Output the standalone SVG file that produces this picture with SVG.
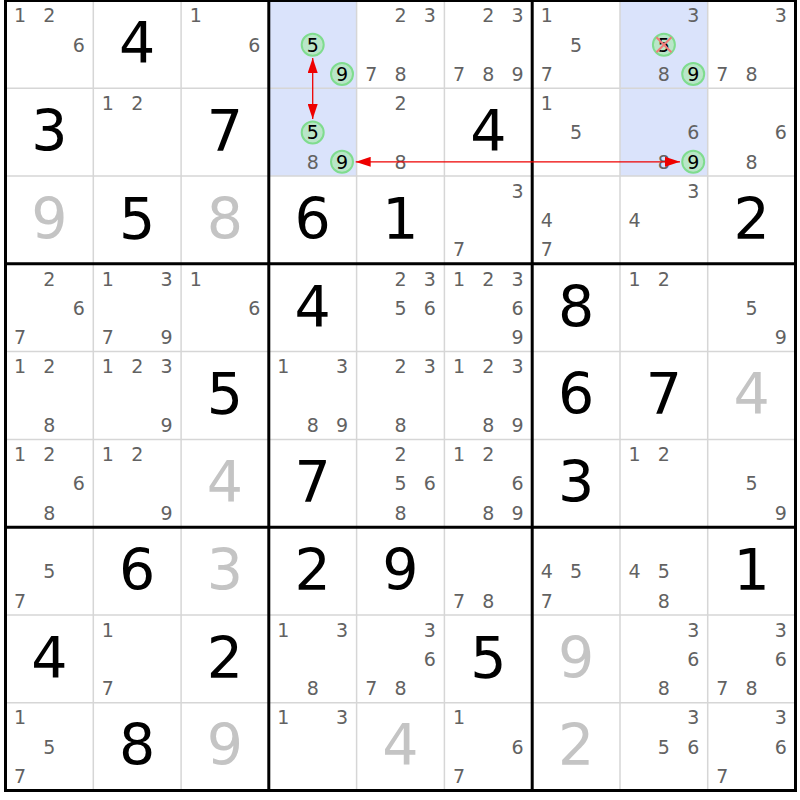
<svg xmlns="http://www.w3.org/2000/svg" width="800" height="800" viewBox="0 0 800 800">
<style>
text{font-family:"DejaVu Sans","Liberation Sans",sans-serif;text-anchor:middle}
.c{font-size:19px;fill:#626262}
.k{font-size:19px;fill:#000}
.g{font-size:57px;fill:#000}
.s{font-size:57px;fill:#c4c4c4}
.hl{fill:#dae3fb}
.ring{fill:#b9e6c8;stroke:#7fdc8e;stroke-width:2}
.x{stroke:#f07a7a;stroke-width:2}
.thin{stroke:#d6d6d6;stroke-width:1.5}
.thick{stroke:#000;stroke-width:3}
.arr{stroke:#ee0000;stroke-width:1.3;fill:none;marker-start:url(#ah);marker-end:url(#ah)}
</style>
<defs>
<marker id="ah" viewBox="0 0 15 10" refX="15" refY="5" markerWidth="15" markerHeight="10" markerUnits="userSpaceOnUse" orient="auto-start-reverse"><path d="M0,0 L15,5 L0,10 z" fill="#ee0000"/></marker>
</defs>
<rect x="0" y="0" width="800" height="800" fill="#fff"/>
<g id="highlights">
<rect class="hl" x="268.8" y="0.5" width="87.8" height="175.6"/>
<rect class="hl" x="620" y="0.5" width="87.8" height="175.6"/>
</g>
<g id="cells">
<g id="r0c0" transform="translate(5.5,0.5)"><text class="c" x="14.6" y="21.8">1</text><text class="c" x="43.9" y="21.8">2</text><text class="c" x="73.2" y="51.1">6</text></g>
<g id="r0c1" transform="translate(93.3,0.5)"><text class="g" x="43.9" y="62.8">4</text></g>
<g id="r0c2" transform="translate(181.1,0.5)"><text class="c" x="14.6" y="21.8">1</text><text class="c" x="73.2" y="51.1">6</text></g>
<g id="r0c3" transform="translate(268.8,0.5)"><circle class="ring" cx="43.9" cy="44.2" r="11"/><text class="k" x="43.9" y="51.1">5</text><circle class="ring" cx="73.2" cy="73.5" r="11"/><text class="k" x="73.2" y="80.4">9</text></g>
<g id="r0c4" transform="translate(356.6,0.5)"><text class="c" x="43.9" y="21.8">2</text><text class="c" x="73.2" y="21.8">3</text><text class="c" x="14.6" y="80.4">7</text><text class="c" x="43.9" y="80.4">8</text></g>
<g id="r0c5" transform="translate(444.4,0.5)"><text class="c" x="43.9" y="21.8">2</text><text class="c" x="73.2" y="21.8">3</text><text class="c" x="14.6" y="80.4">7</text><text class="c" x="43.9" y="80.4">8</text><text class="c" x="73.2" y="80.4">9</text></g>
<g id="r0c6" transform="translate(532.2,0.5)"><text class="c" x="14.6" y="21.8">1</text><text class="c" x="43.9" y="51.1">5</text><text class="c" x="14.6" y="80.4">7</text></g>
<g id="r0c7" transform="translate(620,0.5)"><text class="c" x="73.2" y="21.8">3</text><circle class="ring" cx="43.9" cy="44.2" r="11"/><text class="k" x="43.9" y="51.1">5</text><path class="x" d="M36.4,36.7 L51.4,51.7 M51.4,36.7 L36.4,51.7"/><text class="c" x="43.9" y="80.4">8</text><circle class="ring" cx="73.2" cy="73.5" r="11"/><text class="k" x="73.2" y="80.4">9</text></g>
<g id="r0c8" transform="translate(707.7,0.5)"><text class="c" x="73.2" y="21.8">3</text><text class="c" x="14.6" y="80.4">7</text><text class="c" x="43.9" y="80.4">8</text></g>

<g id="r1c0" transform="translate(5.5,88.3)"><text class="g" x="43.9" y="62.8">3</text></g>
<g id="r1c1" transform="translate(93.3,88.3)"><text class="c" x="14.6" y="21.8">1</text><text class="c" x="43.9" y="21.8">2</text></g>
<g id="r1c2" transform="translate(181.1,88.3)"><text class="g" x="43.9" y="62.8">7</text></g>
<g id="r1c3" transform="translate(268.8,88.3)"><circle class="ring" cx="43.9" cy="44.2" r="11"/><text class="k" x="43.9" y="51.1">5</text><text class="c" x="43.9" y="80.4">8</text><circle class="ring" cx="73.2" cy="73.5" r="11"/><text class="k" x="73.2" y="80.4">9</text></g>
<g id="r1c4" transform="translate(356.6,88.3)"><text class="c" x="43.9" y="21.8">2</text><text class="c" x="43.9" y="80.4">8</text></g>
<g id="r1c5" transform="translate(444.4,88.3)"><text class="g" x="43.9" y="62.8">4</text></g>
<g id="r1c6" transform="translate(532.2,88.3)"><text class="c" x="14.6" y="21.8">1</text><text class="c" x="43.9" y="51.1">5</text></g>
<g id="r1c7" transform="translate(620,88.3)"><text class="c" x="73.2" y="51.1">6</text><text class="c" x="43.9" y="80.4">8</text><circle class="ring" cx="73.2" cy="73.5" r="11"/><text class="k" x="73.2" y="80.4">9</text></g>
<g id="r1c8" transform="translate(707.7,88.3)"><text class="c" x="73.2" y="51.1">6</text><text class="c" x="43.9" y="80.4">8</text></g>

<g id="r2c0" transform="translate(5.5,176.1)"><text class="s" x="43.9" y="62.8">9</text></g>
<g id="r2c1" transform="translate(93.3,176.1)"><text class="g" x="43.9" y="62.8">5</text></g>
<g id="r2c2" transform="translate(181.1,176.1)"><text class="s" x="43.9" y="62.8">8</text></g>
<g id="r2c3" transform="translate(268.8,176.1)"><text class="g" x="43.9" y="62.8">6</text></g>
<g id="r2c4" transform="translate(356.6,176.1)"><text class="g" x="43.9" y="62.8">1</text></g>
<g id="r2c5" transform="translate(444.4,176.1)"><text class="c" x="73.2" y="21.8">3</text><text class="c" x="14.6" y="80.4">7</text></g>
<g id="r2c6" transform="translate(532.2,176.1)"><text class="c" x="14.6" y="51.1">4</text><text class="c" x="14.6" y="80.4">7</text></g>
<g id="r2c7" transform="translate(620,176.1)"><text class="c" x="73.2" y="21.8">3</text><text class="c" x="14.6" y="51.1">4</text></g>
<g id="r2c8" transform="translate(707.7,176.1)"><text class="g" x="43.9" y="62.8">2</text></g>

<g id="r3c0" transform="translate(5.5,263.8)"><text class="c" x="43.9" y="21.8">2</text><text class="c" x="73.2" y="51.1">6</text><text class="c" x="14.6" y="80.4">7</text></g>
<g id="r3c1" transform="translate(93.3,263.8)"><text class="c" x="14.6" y="21.8">1</text><text class="c" x="73.2" y="21.8">3</text><text class="c" x="14.6" y="80.4">7</text><text class="c" x="73.2" y="80.4">9</text></g>
<g id="r3c2" transform="translate(181.1,263.8)"><text class="c" x="14.6" y="21.8">1</text><text class="c" x="73.2" y="51.1">6</text></g>
<g id="r3c3" transform="translate(268.8,263.8)"><text class="g" x="43.9" y="62.8">4</text></g>
<g id="r3c4" transform="translate(356.6,263.8)"><text class="c" x="43.9" y="21.8">2</text><text class="c" x="73.2" y="21.8">3</text><text class="c" x="43.9" y="51.1">5</text><text class="c" x="73.2" y="51.1">6</text></g>
<g id="r3c5" transform="translate(444.4,263.8)"><text class="c" x="14.6" y="21.8">1</text><text class="c" x="43.9" y="21.8">2</text><text class="c" x="73.2" y="21.8">3</text><text class="c" x="73.2" y="51.1">6</text><text class="c" x="73.2" y="80.4">9</text></g>
<g id="r3c6" transform="translate(532.2,263.8)"><text class="g" x="43.9" y="62.8">8</text></g>
<g id="r3c7" transform="translate(620,263.8)"><text class="c" x="14.6" y="21.8">1</text><text class="c" x="43.9" y="21.8">2</text></g>
<g id="r3c8" transform="translate(707.7,263.8)"><text class="c" x="43.9" y="51.1">5</text><text class="c" x="73.2" y="80.4">9</text></g>

<g id="r4c0" transform="translate(5.5,351.6)"><text class="c" x="14.6" y="21.8">1</text><text class="c" x="43.9" y="21.8">2</text><text class="c" x="43.9" y="80.4">8</text></g>
<g id="r4c1" transform="translate(93.3,351.6)"><text class="c" x="14.6" y="21.8">1</text><text class="c" x="43.9" y="21.8">2</text><text class="c" x="73.2" y="21.8">3</text><text class="c" x="73.2" y="80.4">9</text></g>
<g id="r4c2" transform="translate(181.1,351.6)"><text class="g" x="43.9" y="62.8">5</text></g>
<g id="r4c3" transform="translate(268.8,351.6)"><text class="c" x="14.6" y="21.8">1</text><text class="c" x="73.2" y="21.8">3</text><text class="c" x="43.9" y="80.4">8</text><text class="c" x="73.2" y="80.4">9</text></g>
<g id="r4c4" transform="translate(356.6,351.6)"><text class="c" x="43.9" y="21.8">2</text><text class="c" x="73.2" y="21.8">3</text><text class="c" x="43.9" y="80.4">8</text></g>
<g id="r4c5" transform="translate(444.4,351.6)"><text class="c" x="14.6" y="21.8">1</text><text class="c" x="43.9" y="21.8">2</text><text class="c" x="73.2" y="21.8">3</text><text class="c" x="43.9" y="80.4">8</text><text class="c" x="73.2" y="80.4">9</text></g>
<g id="r4c6" transform="translate(532.2,351.6)"><text class="g" x="43.9" y="62.8">6</text></g>
<g id="r4c7" transform="translate(620,351.6)"><text class="g" x="43.9" y="62.8">7</text></g>
<g id="r4c8" transform="translate(707.7,351.6)"><text class="s" x="43.9" y="62.8">4</text></g>

<g id="r5c0" transform="translate(5.5,439.4)"><text class="c" x="14.6" y="21.8">1</text><text class="c" x="43.9" y="21.8">2</text><text class="c" x="73.2" y="51.1">6</text><text class="c" x="43.9" y="80.4">8</text></g>
<g id="r5c1" transform="translate(93.3,439.4)"><text class="c" x="14.6" y="21.8">1</text><text class="c" x="43.9" y="21.8">2</text><text class="c" x="73.2" y="80.4">9</text></g>
<g id="r5c2" transform="translate(181.1,439.4)"><text class="s" x="43.9" y="62.8">4</text></g>
<g id="r5c3" transform="translate(268.8,439.4)"><text class="g" x="43.9" y="62.8">7</text></g>
<g id="r5c4" transform="translate(356.6,439.4)"><text class="c" x="43.9" y="21.8">2</text><text class="c" x="43.9" y="51.1">5</text><text class="c" x="73.2" y="51.1">6</text><text class="c" x="43.9" y="80.4">8</text></g>
<g id="r5c5" transform="translate(444.4,439.4)"><text class="c" x="14.6" y="21.8">1</text><text class="c" x="43.9" y="21.8">2</text><text class="c" x="73.2" y="51.1">6</text><text class="c" x="43.9" y="80.4">8</text><text class="c" x="73.2" y="80.4">9</text></g>
<g id="r5c6" transform="translate(532.2,439.4)"><text class="g" x="43.9" y="62.8">3</text></g>
<g id="r5c7" transform="translate(620,439.4)"><text class="c" x="14.6" y="21.8">1</text><text class="c" x="43.9" y="21.8">2</text></g>
<g id="r5c8" transform="translate(707.7,439.4)"><text class="c" x="43.9" y="51.1">5</text><text class="c" x="73.2" y="80.4">9</text></g>

<g id="r6c0" transform="translate(5.5,527.2)"><text class="c" x="43.9" y="51.1">5</text><text class="c" x="14.6" y="80.4">7</text></g>
<g id="r6c1" transform="translate(93.3,527.2)"><text class="g" x="43.9" y="62.8">6</text></g>
<g id="r6c2" transform="translate(181.1,527.2)"><text class="s" x="43.9" y="62.8">3</text></g>
<g id="r6c3" transform="translate(268.8,527.2)"><text class="g" x="43.9" y="62.8">2</text></g>
<g id="r6c4" transform="translate(356.6,527.2)"><text class="g" x="43.9" y="62.8">9</text></g>
<g id="r6c5" transform="translate(444.4,527.2)"><text class="c" x="14.6" y="80.4">7</text><text class="c" x="43.9" y="80.4">8</text></g>
<g id="r6c6" transform="translate(532.2,527.2)"><text class="c" x="14.6" y="51.1">4</text><text class="c" x="43.9" y="51.1">5</text><text class="c" x="14.6" y="80.4">7</text></g>
<g id="r6c7" transform="translate(620,527.2)"><text class="c" x="14.6" y="51.1">4</text><text class="c" x="43.9" y="51.1">5</text><text class="c" x="43.9" y="80.4">8</text></g>
<g id="r6c8" transform="translate(707.7,527.2)"><text class="g" x="43.9" y="62.8">1</text></g>

<g id="r7c0" transform="translate(5.5,615)"><text class="g" x="43.9" y="62.8">4</text></g>
<g id="r7c1" transform="translate(93.3,615)"><text class="c" x="14.6" y="21.8">1</text><text class="c" x="14.6" y="80.4">7</text></g>
<g id="r7c2" transform="translate(181.1,615)"><text class="g" x="43.9" y="62.8">2</text></g>
<g id="r7c3" transform="translate(268.8,615)"><text class="c" x="14.6" y="21.8">1</text><text class="c" x="73.2" y="21.8">3</text><text class="c" x="43.9" y="80.4">8</text></g>
<g id="r7c4" transform="translate(356.6,615)"><text class="c" x="73.2" y="21.8">3</text><text class="c" x="73.2" y="51.1">6</text><text class="c" x="14.6" y="80.4">7</text><text class="c" x="43.9" y="80.4">8</text></g>
<g id="r7c5" transform="translate(444.4,615)"><text class="g" x="43.9" y="62.8">5</text></g>
<g id="r7c6" transform="translate(532.2,615)"><text class="s" x="43.9" y="62.8">9</text></g>
<g id="r7c7" transform="translate(620,615)"><text class="c" x="73.2" y="21.8">3</text><text class="c" x="73.2" y="51.1">6</text><text class="c" x="43.9" y="80.4">8</text></g>
<g id="r7c8" transform="translate(707.7,615)"><text class="c" x="73.2" y="21.8">3</text><text class="c" x="73.2" y="51.1">6</text><text class="c" x="14.6" y="80.4">7</text><text class="c" x="43.9" y="80.4">8</text></g>

<g id="r8c0" transform="translate(5.5,702.7)"><text class="c" x="14.6" y="21.8">1</text><text class="c" x="43.9" y="51.1">5</text><text class="c" x="14.6" y="80.4">7</text></g>
<g id="r8c1" transform="translate(93.3,702.7)"><text class="g" x="43.9" y="62.8">8</text></g>
<g id="r8c2" transform="translate(181.1,702.7)"><text class="s" x="43.9" y="62.8">9</text></g>
<g id="r8c3" transform="translate(268.8,702.7)"><text class="c" x="14.6" y="21.8">1</text><text class="c" x="73.2" y="21.8">3</text></g>
<g id="r8c4" transform="translate(356.6,702.7)"><text class="s" x="43.9" y="62.8">4</text></g>
<g id="r8c5" transform="translate(444.4,702.7)"><text class="c" x="14.6" y="21.8">1</text><text class="c" x="73.2" y="51.1">6</text><text class="c" x="14.6" y="80.4">7</text></g>
<g id="r8c6" transform="translate(532.2,702.7)"><text class="s" x="43.9" y="62.8">2</text></g>
<g id="r8c7" transform="translate(620,702.7)"><text class="c" x="73.2" y="21.8">3</text><text class="c" x="43.9" y="51.1">5</text><text class="c" x="73.2" y="51.1">6</text></g>
<g id="r8c8" transform="translate(707.7,702.7)"><text class="c" x="73.2" y="21.8">3</text><text class="c" x="73.2" y="51.1">6</text><text class="c" x="14.6" y="80.4">7</text></g>
</g>
<g id="grid">
<path class="thin" d="M93.3,0.5V790.5 M181.1,0.5V790.5 M356.6,0.5V790.5 M444.4,0.5V790.5 M620,0.5V790.5 M707.7,0.5V790.5 M5.5,88.3H795.5 M5.5,176.1H795.5 M5.5,351.6H795.5 M5.5,439.4H795.5 M5.5,615H795.5 M5.5,702.7H795.5"/>
<path class="thick" d="M268.8,0.5V790.5 M532.2,0.5V790.5 M5.5,263.8H795.5 M5.5,527.2H795.5"/>
<rect x="5.5" y="0.5" width="790" height="790" fill="none" stroke="#000" stroke-width="3"/>
</g>
<g id="connectors">
<line class="arr" x1="312.7" y1="58" x2="312.7" y2="119"/>
<line class="arr" x1="355.7" y1="161.8" x2="680" y2="161.8"/>
</g>
</svg>
